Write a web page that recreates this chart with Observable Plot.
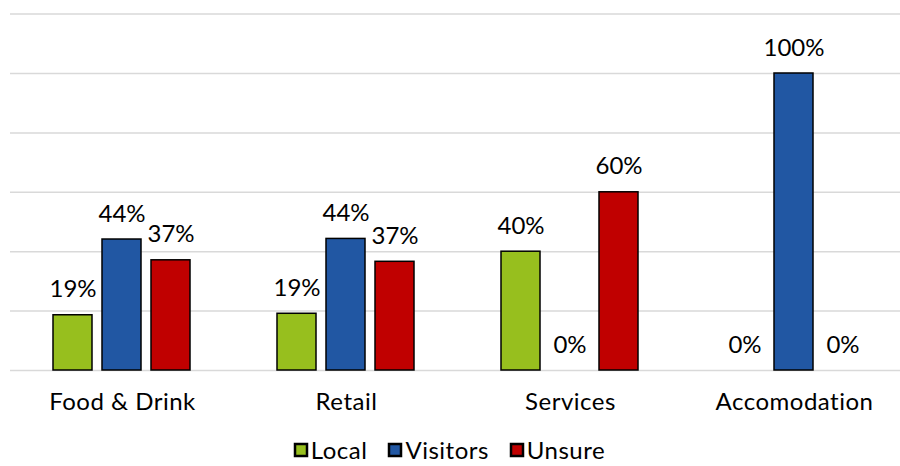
<!DOCTYPE html>
<html><head><meta charset="utf-8">
<script src="https://cdn.jsdelivr.net/npm/d3@7"></script>
<script src="https://cdn.jsdelivr.net/npm/@observablehq/plot@0.6"></script>
<style>
body{margin:0;background:#fff;font-family:Lato,sans-serif;overflow:hidden;}
#chart svg{overflow:visible;display:block}
#chart svg [aria-label="fx-axis tick label"] text{letter-spacing:0.5px;}
.lg-swatches{justify-content:center !important;font-family:Lato,sans-serif !important;font-size:24px !important;line-height:22px !important;letter-spacing:0.5px;color:#000 !important;margin:0 !important;margin-top:19px !important;min-height:0 !important;height:22px;}
.lg-swatch{margin-right:22px !important;}
.lg-swatch:last-child{margin-right:0 !important;}
.lg-swatch > svg{margin-right:4px !important;overflow:visible !important;}
.lg-swatch > svg rect{stroke:#000;stroke-width:2.5px;}
</style></head><body><div id="chart"></div><script>
const categories = ["Food & Drink", "Retail", "Services", "Accomodation"];
const series = ["Local", "Visitors", "Unsure"];
const local = [18.6, 19.1, 40, 0];
const visitors = [44.1, 44.3, 0, 100];
const unsure = [37.1, 36.6, 60, 0];
const colors = ["#97BF1E", "#2157A3", "#C00000"];
const yTicks = [0, 20, 40, 60, 80, 100, 120];

const data = [];
categories.forEach((c, i) => {
  [local, visitors, unsure].forEach((arr, j) => data.push({category: c, series: series[j], value: arr[i]}));
});

const chart = Plot.plot({
  width: 900, height: 420,
  marginLeft: 9, marginRight: -7.5, marginTop: 13.6, marginBottom: 50,
  style: {fontFamily: "Lato, sans-serif", fontSize: "24px", color: "#000", background: "#fff"},
  fx: {domain: categories, padding: 0, label: null, axis: "bottom", tickSize: 0, tickPadding: 22},
  x: {domain: series, paddingInner: 0.2, paddingOuter: 0.86, axis: null},
  y: {domain: [0, 120], axis: null},
  color: {domain: series, range: colors},
  marks: [
    Plot.ruleY(yTicks, {stroke: "#d9d9d9", strokeWidth: 1.5}),
    Plot.barY(data.filter(d => d.value > 0), {fx: "category", x: "series", y: "value", fill: "series", stroke: "#000", strokeWidth: 1.5}),
    Plot.text(data, {fx: "category", x: "series", y: "value", text: d => Math.round(d.value) + "%", dy: -18, lineAnchor: "bottom", fontSize: 24, fill: "#000"})
  ]
});
document.getElementById("chart").appendChild(chart);
const legend = Plot.legend({color: {domain: series, range: colors}, swatchSize: 12, className: "lg"});
document.getElementById("chart").appendChild(legend);
</script></body></html>
